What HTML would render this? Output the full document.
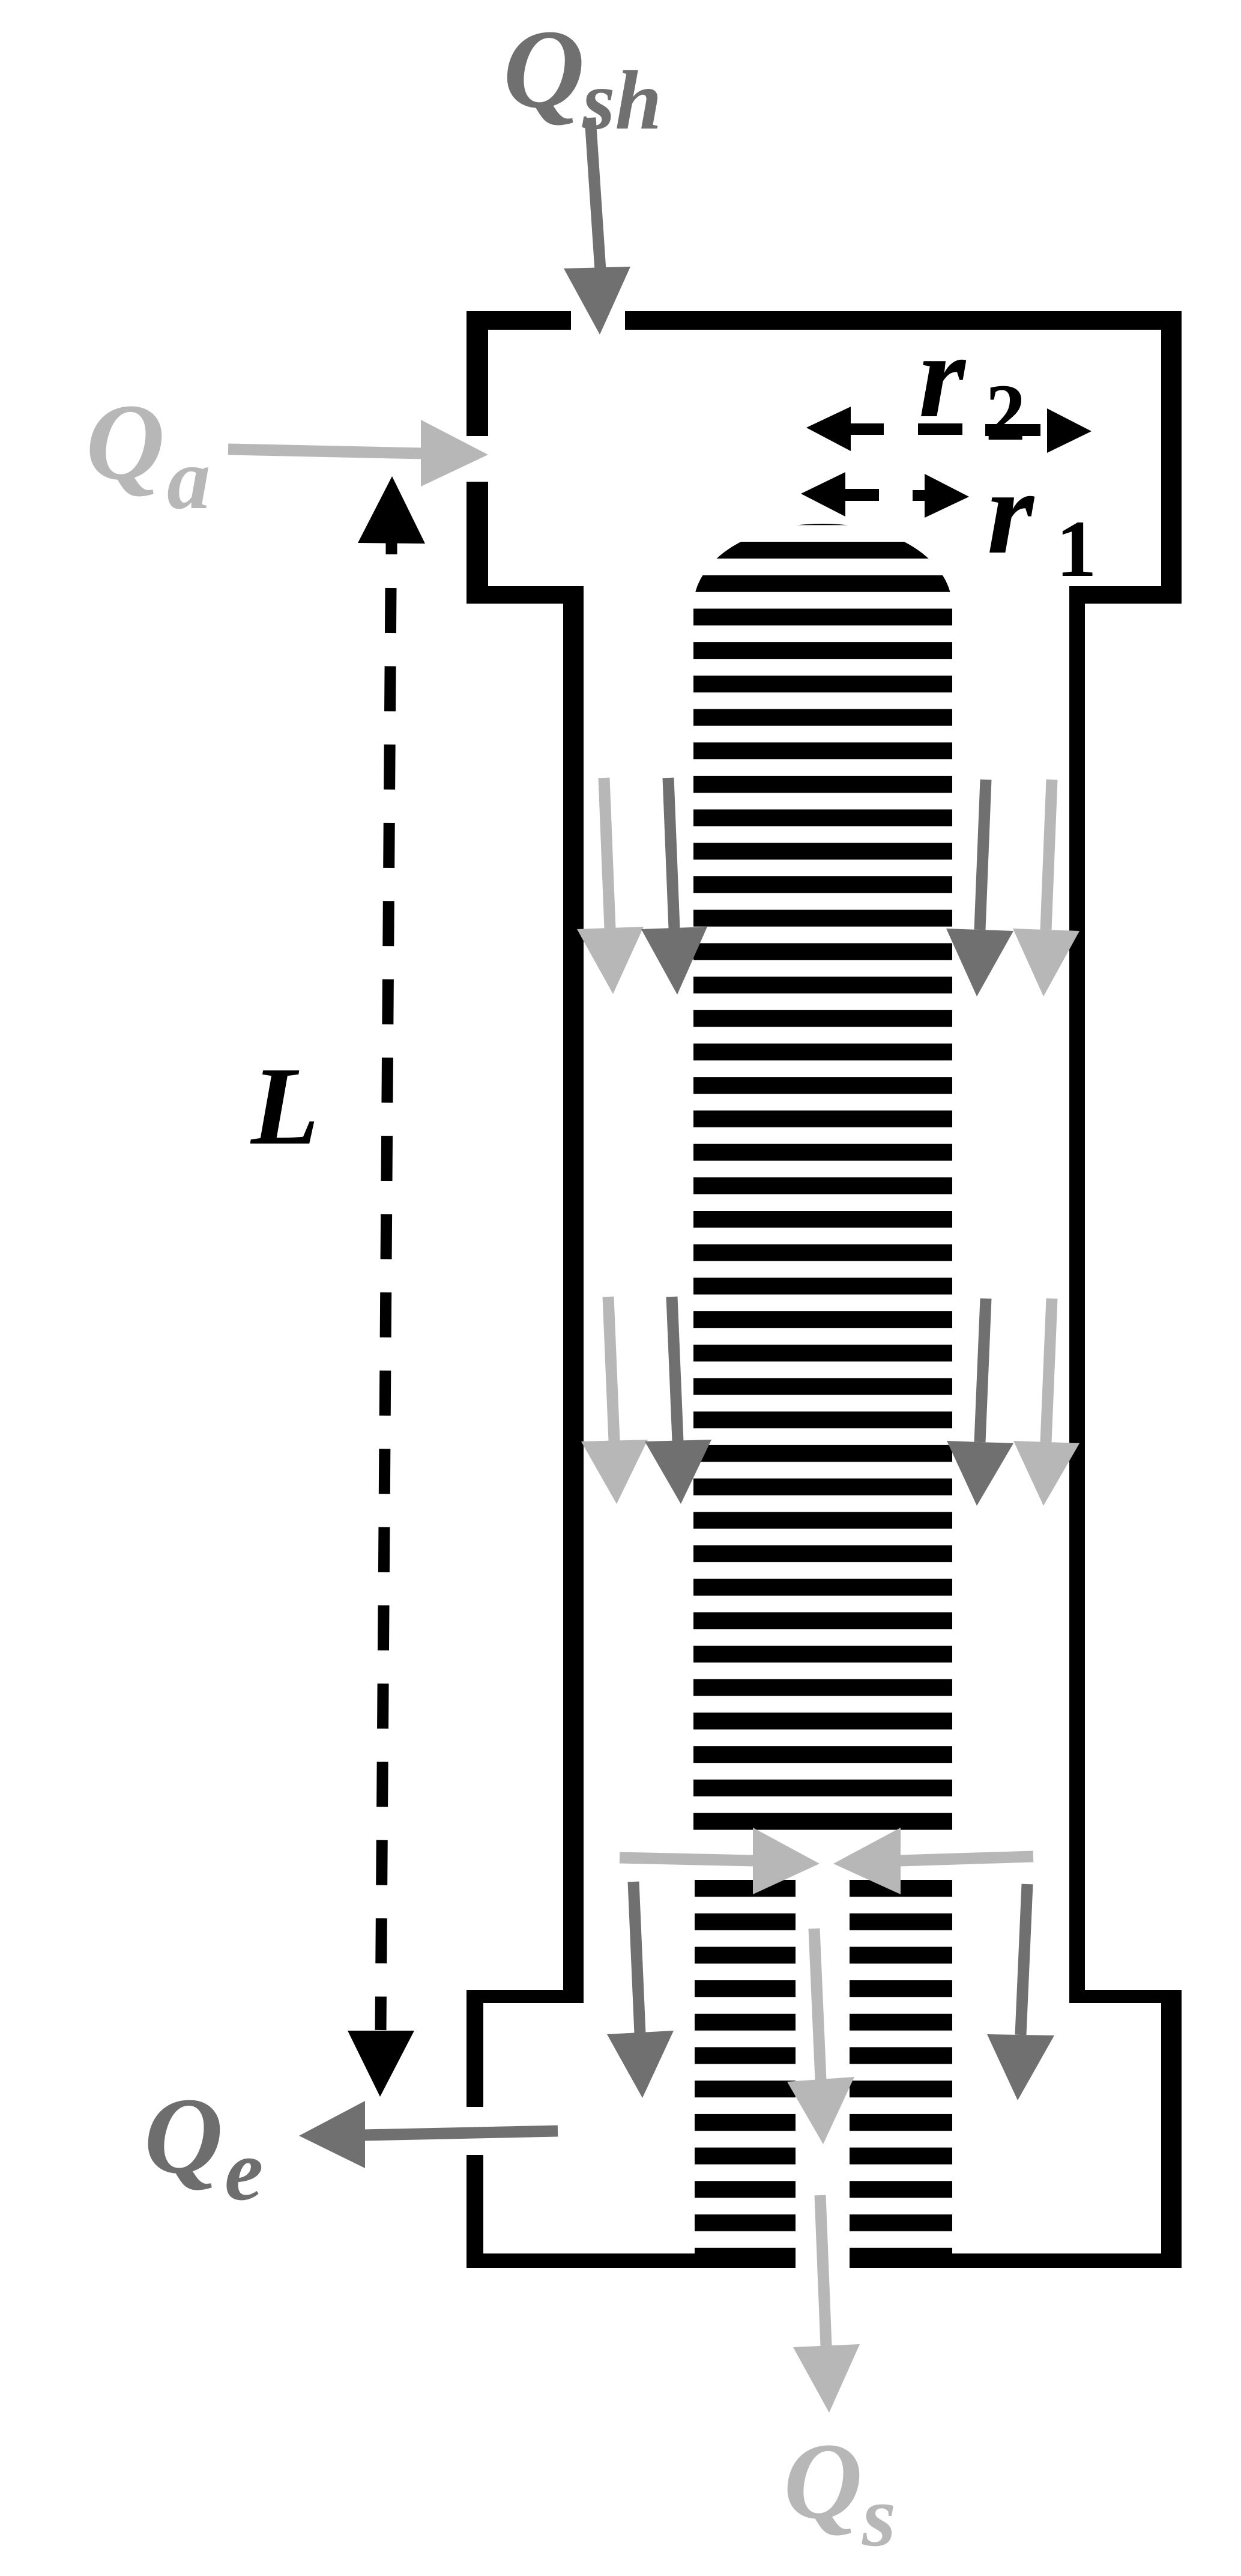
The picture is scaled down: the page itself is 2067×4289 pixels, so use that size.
<!DOCTYPE html>
<html><head><meta charset="utf-8"><style>
html,body{margin:0;padding:0;background:#fff;}
svg{display:block;}
text{font-family:"Liberation Serif",serif;font-weight:bold;font-style:italic;}
</style></head><body>
<svg width="2067" height="4289" viewBox="0 0 2067 4289" xmlns="http://www.w3.org/2000/svg">
<defs>
<pattern id="st" patternUnits="userSpaceOnUse" x="0" y="902" width="2067" height="55.7">
<rect x="0" y="0" width="2067" height="28" fill="#000"/>
</pattern>
<clipPath id="dome"><path d="M1155,3800 L1155,1005 C1160,930 1250,872 1370,872 C1490,872 1580,930 1586,1005 L1586,3800 Z"/></clipPath>
</defs>

<g clip-path="url(#dome)">
<rect x="1155" y="872" width="431" height="2178" fill="url(#st)"/>
</g>
<rect x="1157" y="3128" width="168" height="624" fill="url(#st)"/>
<rect x="1415" y="3128" width="171" height="624" fill="url(#st)"/>

<g fill="#000">
<rect x="777" y="518" width="174" height="31"/>
<rect x="1041" y="518" width="927" height="31"/>
<rect x="777" y="518" width="36" height="208"/>
<rect x="777" y="802" width="36" height="203"/>
<rect x="1934" y="518" width="34" height="487"/>
<rect x="777" y="976" width="195" height="29"/>
<rect x="1781" y="976" width="187" height="29"/>
<rect x="938" y="976" width="34" height="2357"/>
<rect x="1781" y="976" width="26" height="2357"/>
<rect x="777" y="3313" width="195" height="22"/>
<rect x="1781" y="3313" width="187" height="22"/>
<rect x="777" y="3313" width="28" height="195"/>
<rect x="777" y="3588" width="28" height="187"/>
<rect x="1934" y="3313" width="34" height="462"/>
<rect x="777" y="3752" width="548" height="24"/>
<rect x="1415" y="3752" width="553" height="24"/>
</g>

<line x1="983" y1="196" x2="1000" y2="450" stroke="#707070" stroke-width="19"/>
<polygon points="939,447 1050,444 999,557" fill="#707070"/>
<line x1="380" y1="748" x2="705" y2="755" stroke="#b7b7b7" stroke-width="19"/>
<polygon points="701,699 813,757 701,810" fill="#b7b7b7"/>

<polygon points="653,793 596,904 708,905" fill="#000"/>
<line x1="652" y1="900" x2="652" y2="923" stroke="#000" stroke-width="19"/>
<line x1="651" y1="979" x2="634" y2="3380" stroke="#000" stroke-width="19" stroke-dasharray="75 55.3"/>
<polygon points="579,3381 690,3381 633,3491" fill="#000"/>

<g fill="#000">
<polygon points="1343,712 1417,677 1417,751"/>
<rect x="1415" y="705" width="57" height="19"/>
<rect x="1529" y="705" width="74" height="19"/>
<rect x="1641" y="706" width="92" height="20"/>
<polygon points="1744,680 1818,718 1744,754"/>
<polygon points="1334,822 1408,786 1408,860"/>
<rect x="1406" y="814" width="58" height="20"/>
<rect x="1520" y="816" width="22" height="18"/>
<polygon points="1540,789 1614,827 1540,862"/>
</g>

<g stroke-width="19">
<line x1="1006" y1="1295" x2="1016" y2="1546" stroke="#b7b7b7"/>
<line x1="1113" y1="1295" x2="1123" y2="1546" stroke="#707070"/>
<line x1="1642" y1="1298" x2="1632" y2="1548" stroke="#707070"/>
<line x1="1752" y1="1298" x2="1742" y2="1548" stroke="#b7b7b7"/>
</g>
<polygon points="961,1547 1072,1543 1021,1655" fill="#b7b7b7"/>
<polygon points="1068,1547 1178,1543 1128,1656" fill="#707070"/>
<polygon points="1576,1546 1688,1550 1627,1659" fill="#707070"/>
<polygon points="1687,1546 1798,1550 1738,1659" fill="#b7b7b7"/>

<g stroke-width="19">
<line x1="1013" y1="2159" x2="1023" y2="2399" stroke="#b7b7b7"/>
<line x1="1119" y1="2159" x2="1129" y2="2399" stroke="#707070"/>
<line x1="1642" y1="2162" x2="1632" y2="2401" stroke="#707070"/>
<line x1="1752" y1="2162" x2="1742" y2="2401" stroke="#b7b7b7"/>
</g>
<polygon points="968,2400 1079,2397 1027,2504" fill="#b7b7b7"/>
<polygon points="1074,2400 1185,2397 1134,2504" fill="#707070"/>
<polygon points="1577,2399 1688,2403 1627,2507" fill="#707070"/>
<polygon points="1688,2399 1798,2403 1738,2507" fill="#b7b7b7"/>

<line x1="1032" y1="3093" x2="1256" y2="3098" stroke="#b7b7b7" stroke-width="19"/>
<polygon points="1254,3043 1365,3103 1254,3154" fill="#b7b7b7"/>
<line x1="1721" y1="3091" x2="1498" y2="3098" stroke="#b7b7b7" stroke-width="19"/>
<polygon points="1500,3043 1388,3103 1500,3154" fill="#b7b7b7"/>

<line x1="1055" y1="3133" x2="1066" y2="3386" stroke="#707070" stroke-width="19"/>
<polygon points="1011,3387 1122,3381 1070,3493" fill="#707070"/>
<line x1="1711" y1="3137" x2="1700" y2="3388" stroke="#707070" stroke-width="19"/>
<polygon points="1644,3387 1756,3389 1695,3497" fill="#707070"/>
<line x1="1356" y1="3211" x2="1367" y2="3463" stroke="#b7b7b7" stroke-width="19"/>
<polygon points="1311,3466 1423,3458 1371,3570" fill="#b7b7b7"/>
<line x1="1366" y1="3655" x2="1376" y2="3906" stroke="#b7b7b7" stroke-width="19"/>
<polygon points="1321,3908 1432,3903 1381,4017" fill="#b7b7b7"/>

<line x1="929" y1="3548" x2="604" y2="3555" stroke="#707070" stroke-width="19"/>
<polygon points="608,3498 498,3556 608,3610" fill="#707070"/>

<text x="838" y="178" font-size="188" fill="#707070">Q</text>
<text x="970" y="214" font-size="140" fill="#707070">sh</text>
<text x="143" y="797" font-size="182" fill="#b7b7b7">Q</text>
<text x="278" y="846" font-size="145" fill="#b7b7b7">a</text>
<text x="240" y="3617" font-size="182" fill="#6e6e6e">Q</text>
<text x="374" y="3662" font-size="145" fill="#6e6e6e">e</text>
<text x="1305" y="4192" font-size="182" fill="#b7b7b7">Q</text>
<text x="1436" y="4238" font-size="145" fill="#b7b7b7">s</text>
<text x="418" y="1904" font-size="186" fill="#000">L</text>
<text x="1530" y="693" font-size="200" fill="#000">r</text>
<text x="1641" y="732" font-size="135" fill="#000" style="font-style:normal">2</text>
<text x="1644" y="920" font-size="200" fill="#000">r</text>
<text x="1759" y="959" font-size="135" fill="#000" style="font-style:normal">1</text>
</svg>
</body></html>
